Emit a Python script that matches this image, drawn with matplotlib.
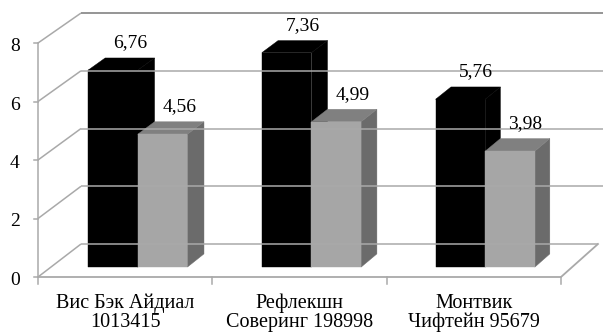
import matplotlib
matplotlib.use("Agg")
import matplotlib.pyplot as plt
from matplotlib.patches import Polygon

# ---- data ----
categories = ["Вис Бэк Айдиал\n1013415", "Рефлекшн\nСоверинг 198998", "Монтвик\nЧифтейн 95679"]
series_a = [6.76, 7.36, 5.76]
series_b = [4.56, 4.99, 3.98]
y_ticks = [0, 2, 4, 6, 8]

def fmt(v):
    return f"{v:.2f}".replace(".", ",")

# ---- figure / axes in category-value units (front plane) ----
W, H = 603, 333
fig = plt.figure(figsize=(W / 100, H / 100), dpi=100)
ax = fig.add_axes([0, 0, 1, 1])
px_per_cat = 174.33
px_per_val = 29.25
x0_px, y0_px = 38, 56           # origin of front plane (from left / bottom)
ax.set_xlim(-x0_px / px_per_cat, (W - x0_px) / px_per_cat)
ax.set_ylim(-y0_px / px_per_val, (H - y0_px) / px_per_val)
ax.axis("off")

# oblique depth: back plane is shifted and very slightly shrunk
back_ox, back_oy = 0.2467, 1.128
back_sx, back_sy = 0.9885, 0.987

def P(c, v, d):
    X = c * (1 - d + d * back_sx) + d * back_ox
    Y = v * (1 - d + d * back_sy) + d * back_oy
    return (X, Y)

grid_col = "#a9a9a9"
font = dict(fontsize=14, family="Liberation Serif")
n = len(categories)

# side wall lines and back wall gridlines
for v in y_ticks:
    xs, ys = zip(P(0, v, 0), P(0, v, 1))
    ax.plot(xs, ys, color=grid_col, lw=1.1, solid_capstyle="butt")
    end = n if v == 0 else n + 0.05
    xs, ys = zip(P(0, v, 1), P(end, v, 1))
    col = "#8c8c8c" if v == y_ticks[-1] else grid_col
    ax.plot(xs, ys, color=col, lw=1.3 if v == y_ticks[-1] else 1.1, solid_capstyle="butt")

# floor front edge and right edge
xs, ys = zip(P(0, 0, 0), P(n, 0, 0), P(n, 0, 1))
ax.plot(xs, ys, color=grid_col, lw=1.3)
# value axis
xs, ys = zip(P(0, 0, 0), P(0, y_ticks[-1], 0))
ax.plot(xs, ys, color=grid_col, lw=1.1)
tick_c = 4 / px_per_cat
for v in y_ticks:
    x, y = P(0, v, 0)
    ax.plot([x - tick_c, x], [y, y], color=grid_col, lw=1.1)
    ax.text(x - 23 / px_per_cat, y - 3.5 / px_per_val, str(v), ha="center", va="center", **font)
for k in range(n + 1):
    x, y = P(k, 0, 0)
    ax.plot([x, x], [y, y - 7 / px_per_val], color=grid_col, lw=1.1)

# 3D bars
d1, d2 = 0.30, 0.70
bw = 1 / 3.5

def bar3d(c_left, c_right, v, front, top, side):
    fl = [P(c_left, 0, d1), P(c_right, 0, d1), P(c_right, v, d1), P(c_left, v, d1)]
    tp = [P(c_left, v, d1), P(c_right, v, d1), P(c_right, v, d2), P(c_left, v, d2)]
    sd = [P(c_right, 0, d1), P(c_right, 0, d2), P(c_right, v, d2), P(c_right, v, d1)]
    for pts, col in ((sd, side), (tp, top), (fl, front)):
        ax.add_patch(Polygon(pts, closed=True, facecolor=col, edgecolor=col, lw=0.3))

for k in range(n):
    cc = k + 0.5
    bar3d(cc - bw, cc, series_a[k], "#000000", "#000000", "#000000")
    bar3d(cc, cc + bw, series_b[k], "#a6a6a6", "#808080", "#6b6b6b")

# value labels
for k in range(n):
    cc = k + 0.5
    for vals, cen in ((series_a, cc - bw / 2), (series_b, cc + bw / 2)):
        ax.annotate(fmt(vals[k]), xy=P(cen, vals[k], d2), xytext=(0, 15),
                    textcoords="offset pixels", ha="center", va="center", **font)

# category labels
for k, lab in enumerate(categories):
    x, y = P(k + 0.5, 0, 0)
    ax.text(x, y - 16.5 / px_per_val, lab, ha="center", va="top", linespacing=1.0,
            fontsize=14.5, family="Liberation Serif")

fig.savefig("out.png", dpi=100, facecolor="white")
